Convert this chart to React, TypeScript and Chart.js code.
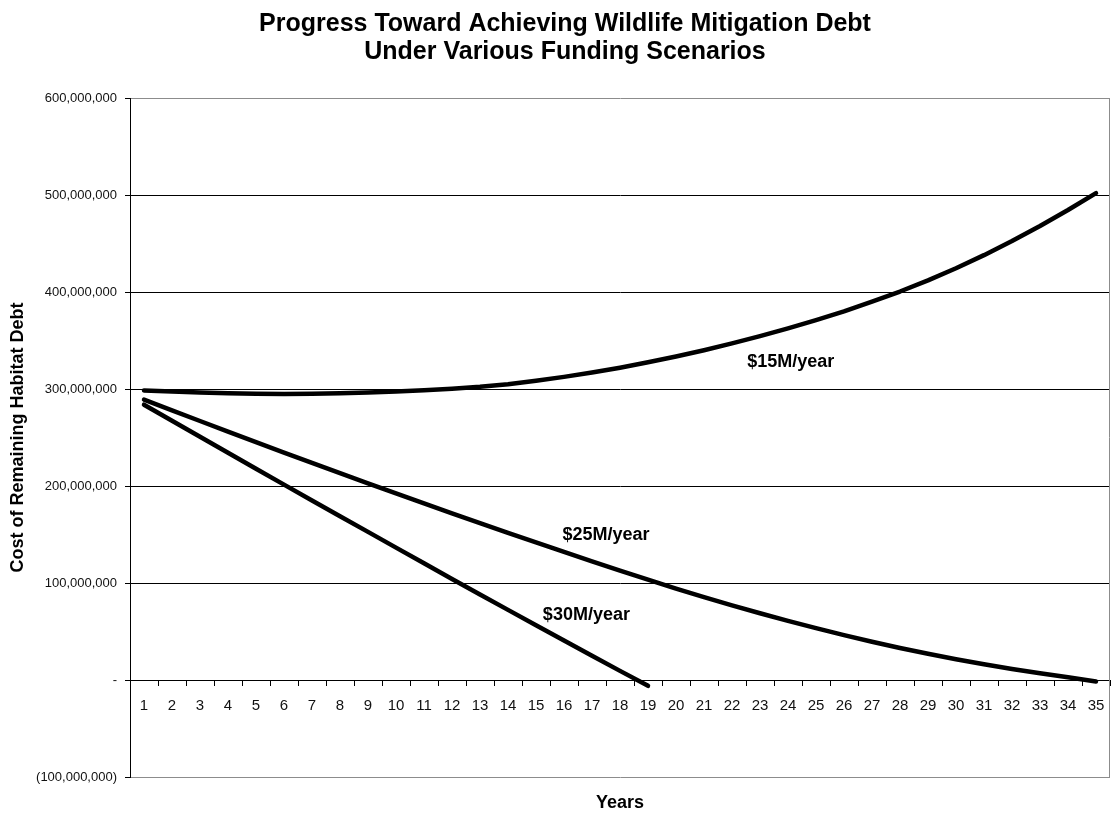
import React, { useEffect, useRef } from 'react';
import { Chart, registerables } from 'chart.js';

Chart.register(...registerables);

const FONT = '"Liberation Sans", Arial, Helvetica, sans-serif';

const TITLE_LINES = [
  'Progress Toward Achieving Wildlife Mitigation Debt',
  'Under Various Funding Scenarios',
];
const Y_AXIS_TITLE = 'Cost of Remaining Habitat Debt';
const X_AXIS_TITLE = 'Years';

const YEARS = [
  '1', '2', '3', '4', '5', '6', '7', '8', '9', '10',
  '11', '12', '13', '14', '15', '16', '17', '18', '19', '20',
  '21', '22', '23', '24', '25', '26', '27', '28', '29', '30',
  '31', '32', '33', '34', '35',
];

const SERIES_NAMES = ['$15M/year', '$25M/year', '$30M/year'];

const FUNDING_15M = [
  298.5e6, 297.3e6, 296.3e6, 295.5e6, 295.0e6, 294.8e6, 295.0e6, 295.6e6, 296.5e6, 297.5e6,
  298.7e6, 300.3e6, 302.3e6, 305.0e6, 308.5e6, 312.5e6, 317.0e6, 322.0e6, 327.5e6, 333.5e6,
  340.0e6, 347.0e6, 354.5e6, 362.5e6, 371.0e6, 380.0e6, 390.0e6, 400.5e6, 412.0e6, 424.5e6,
  438.0e6, 452.5e6, 468.0e6, 484.5e6, 502.0e6,
];

const FUNDING_25M = [
  289.0e6, 278.0e6, 267.0e6, 256.0e6, 245.2e6, 234.5e6, 223.8e6, 213.2e6, 202.7e6, 192.3e6,
  182.0e6, 171.8e6, 161.7e6, 151.7e6, 141.8e6, 132.0e6, 122.3e6, 112.8e6, 103.4e6, 94.3e6,
  85.5e6, 77.0e6, 68.8e6, 61.0e6, 53.5e6, 46.3e6, 39.5e6, 33.0e6, 27.0e6, 21.4e6,
  16.2e6, 11.4e6, 7.0e6, 2.9e6, -1.5e6,
];

const FUNDING_30M = [
  283.8e6, 267.3e6, 250.8e6, 234.3e6, 217.8e6, 201.4e6, 185.1e6, 168.9e6, 152.7e6, 136.5e6,
  120.3e6, 104.2e6, 88.2e6, 72.3e6, 56.5e6, 40.7e6, 25.0e6, 9.4e6, -6.0e6,
];

const Y_MIN = -100e6;
const Y_MAX = 600e6;
const Y_STEP = 100e6;

// where each series name sits, in data coordinates (year, dollars)
const NAME_YEARS = [24.1, 17.5, 16.8];
const NAME_VALUES = [328e6, 149.5e6, 67e6];

function formatDollars(v: number): string {
  if (v === 0) return '-';
  const s = Math.abs(v).toLocaleString('en-US');
  return v < 0 ? `(${s})` : s;
}

const decorPlugin = {
  id: 'decor',
  beforeDatasetsDraw(chart: any) {
    const { ctx, chartArea } = chart;
    ctx.save();
    ctx.strokeStyle = '#8c8c8c';
    ctx.lineWidth = 1;
    const x = Math.round(chartArea.right) - 0.5;
    ctx.beginPath();
    ctx.moveTo(x, chartArea.top);
    ctx.lineTo(x, chartArea.bottom);
    ctx.stroke();
    ctx.restore();
  },
  afterDraw(chart: any) {
    const { ctx, scales } = chart;
    ctx.save();
    ctx.font = `bold 18px ${FONT}`;
    ctx.fillStyle = '#000';
    ctx.textAlign = 'center';
    ctx.textBaseline = 'middle';
    SERIES_NAMES.forEach((name, i) => {
      const px = scales.x.getPixelForValue(NAME_YEARS[i] - 1);
      const py = scales.y.getPixelForValue(NAME_VALUES[i]);
      ctx.fillText(name, px, py);
    });
    ctx.restore();
  },
};

export default function App() {
  const ref = useRef<HTMLCanvasElement>(null);

  useEffect(() => {
    document.body.style.margin = '0';
    const canvas = ref.current;
    if (!canvas) return;
    const lineStyle = {
      borderColor: '#000',
      backgroundColor: '#000',
      borderWidth: 4.5,
      pointRadius: 0,
      pointHoverRadius: 0,
      fill: false,
      tension: 0,
      borderCapStyle: 'round' as const,
      borderJoinStyle: 'round' as const,
    };
    const chart = new Chart(canvas, {
      type: 'line',
      data: {
        labels: YEARS,
        datasets: [
          { label: SERIES_NAMES[0], data: FUNDING_15M, ...lineStyle },
          { label: SERIES_NAMES[1], data: FUNDING_25M, ...lineStyle },
          { label: SERIES_NAMES[2], data: FUNDING_30M, ...lineStyle },
        ],
      },
      options: {
        responsive: false,
        animation: false,
        events: [],
        layout: { padding: { left: 20, right: 3, top: 0, bottom: 0 } },
        plugins: {
          legend: { display: false },
          tooltip: { enabled: false },
          title: {
            display: true,
            text: TITLE_LINES,
            color: '#000',
            font: { family: FONT, size: 25, weight: 'bold', lineHeight: '28px' },
            padding: { top: 10, bottom: 32 },
          },
        },
        scales: {
          y: {
            type: 'linear',
            position: 'left',
            min: Y_MIN,
            max: Y_MAX,
            afterFit: (scale: any) => {
              scale.width = 110;
            },
            ticks: {
              stepSize: Y_STEP,
              color: '#111',
              padding: 8,
              font: { family: FONT, size: 13 },
              callback: (v: any) => formatDollars(Number(v)),
            },
            grid: {
              color: (c: any) =>
                c.tick && (c.tick.value === Y_MAX || c.tick.value === Y_MIN) ? '#8c8c8c' : '#000',
              lineWidth: 1,
              tickLength: 5,
              tickColor: '#000',
              drawTicks: true,
            },
            border: { display: true, color: '#000', width: 1 },
            title: {
              display: true,
              text: Y_AXIS_TITLE,
              color: '#000',
              font: { family: FONT, size: 18, weight: 'bold' },
              padding: { top: -12.8, bottom: 0 },
            },
          },
          x: {
            type: 'category',
            position: { y: 0 } as any,
            offset: true,
            afterFit: (scale: any) => {
              scale.paddingLeft = 0;
              scale.paddingRight = 0;
            },
            ticks: {
              color: '#111',
              padding: 12,
              autoSkip: false,
              maxRotation: 0,
              font: { family: FONT, size: 15 },
            },
            grid: {
              offset: true,
              drawOnChartArea: false,
              drawTicks: true,
              tickLength: 5,
              color: '#000',
              tickColor: '#000',
            },
            border: { display: true, color: '#000', width: 1 },
          },
          x2: {
            type: 'category',
            position: 'bottom',
            ticks: { display: false },
            grid: { display: false, drawTicks: false },
            border: { display: false },
            title: {
              display: true,
              text: X_AXIS_TITLE,
              color: '#000',
              font: { family: FONT, size: 18, weight: 'bold' },
              padding: { top: 15.4, bottom: 0 },
            },
          },
        },
      },
      plugins: [decorPlugin],
    });
    return () => chart.destroy();
  }, []);

  return (
    <div style={{ width: 1113, height: 814 }}>
      <canvas ref={ref} width={1113} height={814} style={{ display: 'block', width: 1113, height: 814 }} />
    </div>
  );
}
